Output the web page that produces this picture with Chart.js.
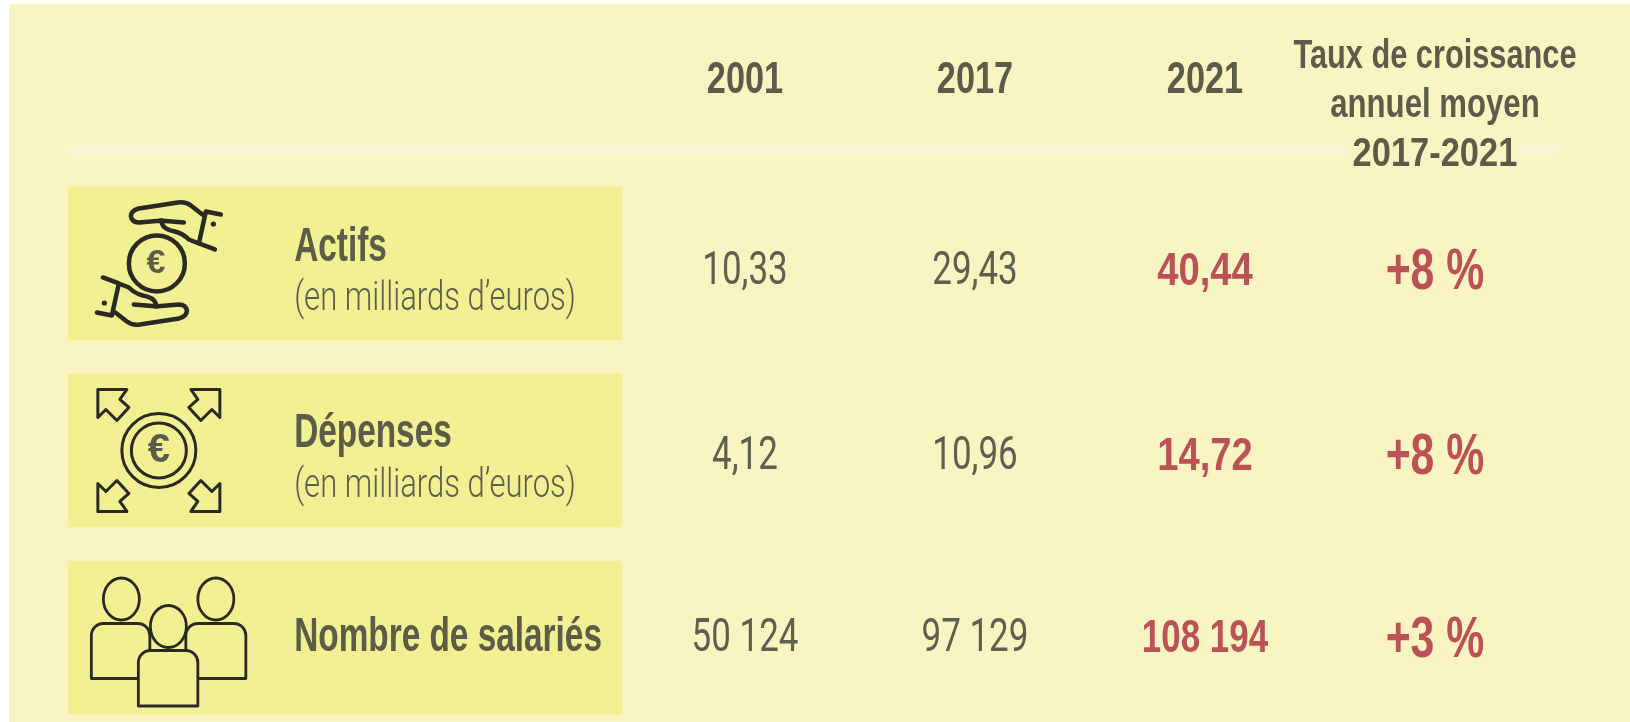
<!DOCTYPE html>
<html>
<head>
<meta charset="utf-8">
<style>html,body{margin:0;padding:0;background:#fff}#wrap{width:1630px;height:722px}canvas{display:block}</style>
<script src="https://cdn.jsdelivr.net/npm/chart.js@4"></script>
</head>
<body>
<div id="wrap"><canvas id="c" width="1630" height="722"></canvas></div>
<script>
const years = ["2001", "2017", "2021"];
const growthTitle = ["Taux de croissance", "annuel moyen", "2017-2021"];
const rowNames = ["Actifs", "Dépenses", "Nombre de salariés"];
const rowUnits = ["(en milliards d’euros)", "(en milliards d’euros)", ""];
const values2001 = [10.33, 4.12, 50124];
const values2017 = [29.43, 10.96, 97129];
const values2021 = [40.44, 14.72, 108194];
const growth = [8, 8, 3];

const BOLD = '"Liberation Sans"';
const LIGHT = 'Roboto,"Liberation Sans"';
const DARK = "#5c5c48", GREY = "#5f5f50", RED = "#bc5158", INK = "#2a2a22", BAND = "#f1f093";

function fmt(v) {
  if (Number.isInteger(v)) return String(v).replace(/\B(?=(\d{3})+$)/g, " ");
  return v.toFixed(2).replace(".", ",");
}

// no condensed face is installed, so text gets squeezed horizontally
function text(ctx, s, x, y, font, color, align, sx) {
  ctx.save();
  ctx.font = font;
  ctx.fillStyle = color;
  ctx.textAlign = align || "center";
  ctx.textBaseline = "middle";
  ctx.translate(x, y);
  ctx.scale(sx || 1, 1);
  ctx.fillText(s, 0, 0);
  ctx.restore();
}

function euro(ctx, x, y, size) {
  text(ctx, "€", x, y, "bold " + size + "px " + BOLD, DARK);
}

function iconHands(ctx, x, y) {
  ctx.lineWidth = 4.5;
  ctx.beginPath(); ctx.arc(x, y, 28, 0, Math.PI * 2); ctx.stroke();
  euro(ctx, x - 1, y, 34);
  const hand = () => {
    ctx.beginPath();
    ctx.moveTo(45.5, -49);
    ctx.lineTo(34, -58);
    ctx.quadraticCurveTo(29, -62, 21, -61);
    ctx.lineTo(-18, -55);
    ctx.quadraticCurveTo(-26, -53, -26, -47);
    ctx.quadraticCurveTo(-25, -41, -18, -41);
    ctx.lineTo(6, -43);
    ctx.moveTo(3, -43);
    ctx.lineTo(27, -41);
    ctx.moveTo(5, -40);
    ctx.quadraticCurveTo(7, -34, 18, -32);
    ctx.quadraticCurveTo(26, -30, 32, -24);
    ctx.lineTo(42, -20);
    ctx.moveTo(64, -49);
    ctx.lineTo(49, -52);
    ctx.lineTo(42, -20);
    ctx.lineTo(58, -14);
    ctx.stroke();
    ctx.beginPath(); ctx.arc(56.5, -39.5, 2.6, 0, Math.PI * 2); ctx.fill();
  };
  ctx.save();
  ctx.translate(x, y); hand();
  ctx.translate(4, 0); ctx.rotate(Math.PI); hand();
  ctx.restore();
}

function iconArrows(ctx, x, y) {
  x += 2;
  ctx.lineWidth = 3;
  ctx.beginPath(); ctx.arc(x, y, 37, 0, Math.PI * 2); ctx.stroke();
  ctx.beginPath(); ctx.arc(x, y, 27.5, 0, Math.PI * 2); ctx.stroke();
  euro(ctx, x, y, 40);
  const arrow = () => {
    ctx.beginPath();
    ctx.moveTo(-61, -61);
    ctx.lineTo(-32, -61);
    ctx.lineTo(-39, -51);
    ctx.lineTo(-30, -43);
    ctx.lineTo(-42, -30);
    ctx.lineTo(-53, -41);
    ctx.lineTo(-61, -33);
    ctx.closePath();
    ctx.stroke();
  };
  for (let i = 0; i < 4; i++) {
    ctx.save(); ctx.translate(x, y); ctx.scale(i % 3 ? -1 : 1, i > 1 ? -1 : 1); arrow(); ctx.restore();
  }
}

function iconPeople(ctx, x, y) {
  ctx.lineWidth = 2.8;
  ctx.fillStyle = BAND;
  const body = (l, r, top, bottom) => {
    ctx.beginPath();
    ctx.roundRect(x + l, y + top, r - l, bottom - top, [12, 12, 0, 0]);
    ctx.fill(); ctx.stroke();
  };
  const head = (cx, cy) => {
    ctx.beginPath();
    ctx.ellipse(x + cx, y + cy, 18, 21, 0, 0, Math.PI * 2);
    ctx.fill(); ctx.stroke();
  };
  body(-65.5, -7, -14, 41);
  body(29, 89, -14, 41);
  head(-35.5, -38.5);
  head(59, -38.5);
  body(-18.5, 41, 13, 68.5);
  head(11.5, -11);
}

const icons = [iconHands, iconArrows, iconPeople];
const nameDy = [-16, -17, 0];
const cellDy = [9, 7, 2];
const growthDy = [10, 8, 4];
const titleSx = [0.75, 0.76, 0.84];

const tablePlugin = {
  id: "table",
  beforeDraw(chart) {
    const ctx = chart.ctx;
    ctx.save();
    ctx.fillStyle = "#ffffff"; ctx.fillRect(0, 0, 1630, 722);
    ctx.fillStyle = "#f8f5c3"; ctx.fillRect(9, 4, 1621, 718);
    ctx.restore();
  },
  afterDatasetsDraw(chart) {
    const ctx = chart.ctx;
    const { x: xs, y: ys } = chart.scales;
    // column headers
    years.forEach((s, i) => text(ctx, s, xs.getPixelForValue(i), ys.getPixelForValue(-1) + 4, "bold 44px " + BOLD, DARK, "center", 0.78));
    growthTitle.forEach((s, i) => text(ctx, s, xs.getPixelForValue(3), ys.getPixelForValue(-1) + (i - 1) * 49 + 29, "bold 41px " + BOLD, DARK, "center", titleSx[i]));
    // cells come from the point datasets, so positions follow the scales
    chart.data.datasets.forEach((ds, d) => {
      if (!ds.cells) return;
      chart.getDatasetMeta(d).data.forEach((pt, i) => {
        text(ctx, ds.cells[i], pt.x, pt.y + ds.cellDy[i], ds.cellFont, ds.cellColor, "center", ds.cellSx[i]);
      });
    });
    // row labels and icons
    rowNames.forEach((s, i) => {
      const x = xs.getPixelForValue(-1.96), y = ys.getPixelForValue(i);
      text(ctx, s, x, y + nameDy[i], "bold 48px " + BOLD, DARK, "left", 0.695);
      if (rowUnits[i]) text(ctx, rowUnits[i], x, y + 36, "300 41px " + LIGHT, GREY, "left", 0.757);
      ctx.save();
      ctx.strokeStyle = INK; ctx.fillStyle = INK; ctx.lineCap = "round"; ctx.lineJoin = "round";
      icons[i](ctx, xs.getPixelForValue(-2.557), y);
      ctx.restore();
    });
  }
};

const rows = [0, 1, 2];
function cellDataset(col, cells, font, color, sx, dy) {
  return {
    type: "scatter", data: rows.map(r => ({ x: col, y: r })), pointRadius: 0,
    cells, cellFont: font, cellColor: color, cellSx: sx, cellDy: dy
  };
}

new Chart(document.getElementById("c"), {
  data: {
    datasets: [
      {
        type: "bar", indexAxis: "y", grouped: false, backgroundColor: BAND, barThickness: 153, borderWidth: 0,
        data: rows.map(r => ({ x: [-2.943, -0.535], y: r }))
      },
      {
        type: "bar", indexAxis: "y", grouped: false, backgroundColor: "#f9f4d6", barThickness: 9, borderWidth: 0,
        data: [{ x: [-2.943, 2.613], y: -0.604 }, { x: [3.361, 3.53], y: -0.604 }]
      },
      cellDataset(0, values2001.map(fmt), "46px " + LIGHT, GREY, [0.76, 0.76, 0.76], cellDy),
      cellDataset(1, values2017.map(fmt), "46px " + LIGHT, GREY, [0.76, 0.76, 0.76], cellDy),
      cellDataset(2, values2021.map(fmt), "bold 46px " + BOLD, RED, [0.83, 0.83, 0.76], cellDy),
      cellDataset(3, growth.map(g => "+" + g + " %"), "bold 57px " + BOLD, RED, [0.75, 0.75, 0.75], growthDy)
    ]
  },
  options: {
    responsive: false,
    animation: false,
    layout: { padding: 0 },
    plugins: { legend: { display: false }, tooltip: { enabled: false } },
    scales: {
      x: { type: "linear", display: false, offset: false, min: -3.239, max: 3.848 },
      y: { type: "linear", display: false, offset: false, reverse: true, min: -1.409, max: 2.452 }
    }
  },
  plugins: [tablePlugin]
});
</script>
</body>
</html>
